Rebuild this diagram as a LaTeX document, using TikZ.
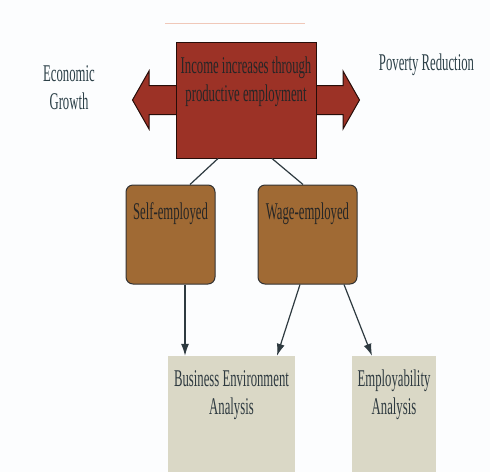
\documentclass[tikz,border=0pt]{standalone}
\usepackage{fontspec}
\setmainfont{Liberation Serif}[FakeStretch=0.53]
\usetikzlibrary{arrows.meta}

\definecolor{pagebg}{RGB}{252,253,254}
\definecolor{incomered}{RGB}{156,50,38}
\definecolor{selfbrown}{RGB}{160,106,52}
\definecolor{analysisbeige}{RGB}{218,216,198}
\definecolor{linkslate}{RGB}{46,58,64}
\definecolor{sideslate}{RGB}{44,64,72}
\definecolor{paleline}{RGB}{240,200,185}

\begin{document}
\begin{tikzpicture}[x=1pt,y=-1pt,
  every node/.style={font=\fontsize{24}{28}\selectfont, inner sep=0pt, text=black!85},
  redbox/.style={draw=black!75!incomered, line width=1pt, fill=incomered,
    minimum width=140pt, minimum height=116pt},
  brownbox/.style={draw=black!80, line width=1pt, fill=selfbrown,
    rounded corners=7pt, minimum height=99pt},
  beigebox/.style={fill=analysisbeige, minimum height=116pt},
  sidetext/.style={text=sideslate},
  link/.style={draw=linkslate, line width=1.2pt},
  linkarrow/.style={link, -{Latex[length=12pt,width=8pt]}}]
  % Page size and background
  \useasboundingbox (0,0) rectangle (490,472);
  \fill[pagebg] (0,0) rectangle (490,472);
  \draw[paleline, line width=1pt] (165,23) -- (305,23);

  % Parameters for the double arrow behind the red box
  \def\shaftHalf{14.5} % half height of the shaft
  \def\headHalf{29} % half height of the arrow heads
  \def\headBase{97} % from centre to the base of each head
  \def\tipX{113.5} % from centre to each tip
  \coordinate (A) at (246,100); % centre of the red box

  % Double arrow, then the red box on top
  \filldraw[fill=incomered, draw=black!75!incomered, line width=1pt, line join=miter]
    ([xshift=-\headBase pt, yshift=\shaftHalf pt]A) -- ([xshift=\headBase pt, yshift=\shaftHalf pt]A)
    -- ([xshift=\headBase pt, yshift=\headHalf pt]A) -- ([xshift=\tipX pt]A)
    -- ([xshift=\headBase pt, yshift=-\headHalf pt]A) -- ([xshift=\headBase pt, yshift=-\shaftHalf pt]A)
    -- ([xshift=-\headBase pt, yshift=-\shaftHalf pt]A) -- ([xshift=-\headBase pt, yshift=-\headHalf pt]A)
    -- ([xshift=-\tipX pt]A) -- ([xshift=-\headBase pt, yshift=\headHalf pt]A) -- cycle;
  \node[redbox] (income) at (A) {};
  \node[align=center] (incometext) at (246,81.4) {Income increases through\\productive employment};

  % Labels at both ends of the arrow
  \node[sidetext, align=center] (growth) at (69,88) {Economic\\Growth};
  \node[sidetext, anchor=base] (poverty) at (426.5,70) {Poverty Reduction};

  % Kinds of employment
  \node[brownbox, minimum width=89pt] (self) at (170.5,234.5) {};
  \node[anchor=base] (selftext) at (170.5,219) {Self-employed};
  \node[brownbox, minimum width=99pt] (wage) at (307.5,234.5) {};
  \node[anchor=base] (wagetext) at (307.5,219) {Wage-employed};

  % Analyses
  \node[beigebox, minimum width=127pt] (business) at (231.5,414) {};
  \node[align=center, text=linkslate] (businesstext) at (231.5,395.6) {Business Environment\\Analysis};
  \node[beigebox, minimum width=84pt] (employ) at (394,414) {};
  \node[align=center, text=linkslate] (employtext) at (394,395) {Employability\\Analysis};

  % Connectors
  \draw[link] ([xshift=-28pt]income.south) -- ([xshift=19.5pt]self.north);
  \draw[link] ([xshift=26pt]income.south) -- ([xshift=-4.5pt]wage.north);
  \draw[linkarrow] ([xshift=14.5pt]self.south) -- ([xshift=-46.5pt]business.north);
  \draw[linkarrow] ([xshift=-7.5pt]wage.south) -- ([xshift=45.5pt]business.north);
  \draw[linkarrow] ([xshift=36.5pt]wage.south) -- ([xshift=-22pt]employ.north);
\end{tikzpicture}
\end{document}
